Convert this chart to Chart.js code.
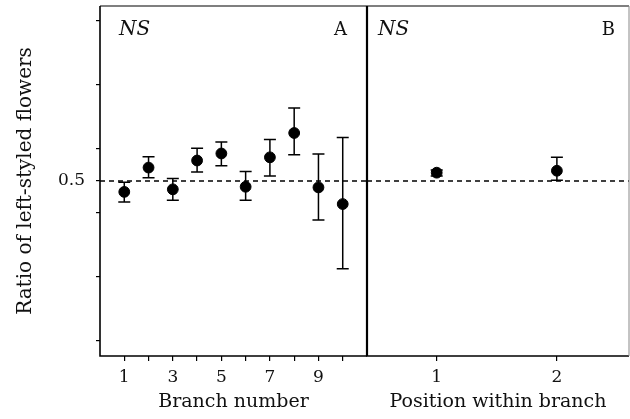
<!DOCTYPE html>
<html>
<head>
<meta charset="utf-8">
<script src="https://cdn.jsdelivr.net/npm/chart.js@4/dist/chart.umd.min.js"></script>
<style>
    html, body { margin: 0; padding: 0; background: #fff; }
    #wrap { position: relative; width: 630px; height: 419px; }
    canvas { position: absolute; left: 0; top: 0; }
</style>
</head>
<body>
<div id="wrap">
    <canvas id="chartA" width="630" height="419"></canvas>
    <canvas id="chartB" width="630" height="419"></canvas>
</div>
<script>
// panel A: ratio per branch number (mean, lower and upper error bar)
const branchNumbers = [1, 2, 3, 4, 5, 6, 7, 8, 9, 10];
const branchRatio = [0.483, 0.521, 0.487, 0.532, 0.543, 0.491, 0.537, 0.575, 0.490, 0.464];
const branchLow   = [0.467, 0.505, 0.470, 0.514, 0.524, 0.470, 0.508, 0.541, 0.439, 0.363];
const branchHigh  = [0.498, 0.538, 0.504, 0.551, 0.561, 0.515, 0.565, 0.614, 0.542, 0.568];

// panel B: ratio per position within branch
const positions = [1, 2];
const positionRatio = [0.513, 0.516];
const positionLow   = [0.508, 0.501];
const positionHigh  = [0.517, 0.537];

const yTicks = [0.25, 0.35, 0.45, 0.5, 0.55, 0.65, 0.75];
const yLabels = [0.5];
const branchTicks = [1, 2, 3, 4, 5, 6, 7, 8, 9, 10];
const branchLabels = [1, 3, 5, 7, 9];
const positionTicks = [1, 2];
const expected = 0.5;

const Y_MIN = 0.2266, Y_MAX = 0.7734;
const SERIF = '"DejaVu Serif", serif';
const TICK_FONT = { family: SERIF, size: 17 };
const TITLE_FONT = { family: SERIF, size: 19 };

function frameAndErrors(opts) {
    return {
        id: 'frameAndErrors',
        afterDatasetsDraw(chart) {
            const { ctx, chartArea: a, scales } = chart;
            ctx.save();
            ctx.strokeStyle = '#000';
            ctx.lineWidth = 1.5;
            opts.xs.forEach((x, i) => {
                const px = scales.x.getPixelForValue(x);
                const yl = scales.y.getPixelForValue(opts.lows[i]);
                const yh = scales.y.getPixelForValue(opts.highs[i]);
                ctx.beginPath();
                ctx.moveTo(px, yl); ctx.lineTo(px, yh);
                ctx.moveTo(px - 6, yl); ctx.lineTo(px + 6, yl);
                ctx.moveTo(px - 6, yh); ctx.lineTo(px + 6, yh);
                ctx.stroke();
            });
            // frame
            ctx.lineWidth = 1.6;
            ctx.beginPath();
            ctx.moveTo(a.left, a.top); ctx.lineTo(a.left, a.bottom); ctx.lineTo(a.right, a.bottom);
            ctx.stroke();
            ctx.lineWidth = 1.2;
            ctx.beginPath();
            ctx.moveTo(a.left, a.top); ctx.lineTo(a.right, a.top);
            ctx.stroke();
            ctx.beginPath();
            if (opts.faintRight) { ctx.strokeStyle = '#888'; ctx.lineWidth = 1; }
            else { ctx.lineWidth = 2.2; }
            ctx.moveTo(a.right, a.top); ctx.lineTo(a.right, a.bottom);
            ctx.stroke();
            // panel labels
            ctx.fillStyle = '#111';
            ctx.textBaseline = 'alphabetic';
            ctx.font = 'italic 20px ' + SERIF;
            ctx.textAlign = 'left';
            ctx.fillText('NS', a.left + opts.nsOffset, a.top + 29);
            ctx.font = '18px ' + SERIF;
            ctx.textAlign = 'right';
            ctx.fillText(opts.label, a.right - opts.labelOffset, a.top + 29);
            ctx.restore();
        }
    };
}

function buildChart(id, opts) {
    const ctx = document.getElementById(id).getContext('2d');
    return new Chart(ctx, {
        type: 'scatter',
        data: {
            datasets: [{
                type: 'line',
                data: [{ x: opts.xMin, y: expected }, { x: opts.xMax, y: expected }],
                borderColor: '#000',
                borderWidth: 1.3,
                borderDash: [5, 4],
                pointRadius: 0
            }, {
                data: opts.xs.map((x, i) => ({ x, y: opts.ys[i] })),
                backgroundColor: '#000',
                borderColor: '#000',
                pointRadius: 5.4
            }]
        },
        options: {
            responsive: false,
            animation: false,
            layout: {
                autoPadding: false,
                padding: { left: opts.padLeft, right: opts.padRight, top: 6, bottom: 0 }
            },
            plugins: { legend: { display: false }, tooltip: { enabled: false } },
            scales: {
                x: {
                    type: 'linear',
                    min: opts.xMin,
                    max: opts.xMax,
                    afterBuildTicks: s => { s.ticks = opts.xTicks.map(v => ({ value: v })); },
                    afterFit: s => { s.height = 63; s.paddingLeft = 0; s.paddingRight = 0; },
                    border: { display: false },
                    grid: { drawOnChartArea: false, drawTicks: true, tickLength: 5, color: '#000', lineWidth: 1.2 },
                    ticks: {
                        color: '#111', font: TICK_FONT, padding: 6, maxRotation: 0, autoSkip: false,
                        callback: v => opts.xLabels.includes(v) ? String(v) : ''
                    },
                    title: {
                        display: true, text: opts.xTitle, color: '#111', font: TITLE_FONT,
                        padding: { top: 0, bottom: 6 }
                    }
                },
                y: {
                    type: 'linear',
                    display: opts.showY,
                    min: Y_MIN,
                    max: Y_MAX,
                    afterBuildTicks: s => { s.ticks = yTicks.map(v => ({ value: v })); },
                    afterFit: s => { s.width = opts.showY ? 100 : 0; s.paddingTop = 0; s.paddingBottom = 0; },
                    border: { display: false },
                    grid: { drawOnChartArea: false, drawTicks: true, tickLength: 4, color: '#000', lineWidth: 1.2 },
                    ticks: {
                        color: '#111', font: TICK_FONT, padding: 11, autoSkip: false,
                        callback: v => yLabels.includes(v) ? String(v) : ''
                    },
                    title: {
                        display: true, text: 'Ratio of left-styled flowers', color: '#111',
                        font: { family: SERIF, size: 20 },
                        padding: { top: 14, bottom: 0 }
                    }
                }
            }
        },
        plugins: [frameAndErrors(opts)]
    });
}

buildChart('chartA', {
    xs: branchNumbers, ys: branchRatio, lows: branchLow, highs: branchHigh,
    xMin: 0, xMax: 11, xTicks: branchTicks, xLabels: branchLabels,
    xTitle: 'Branch number', label: 'A', showY: true,
    padLeft: 0, padRight: 263, faintRight: false, nsOffset: 19, labelOffset: 20
});

buildChart('chartB', {
    xs: positions, ys: positionRatio, lows: positionLow, highs: positionHigh,
    xMin: 0.42, xMax: 2.6, xTicks: positionTicks, xLabels: positionTicks,
    xTitle: 'Position within branch', label: 'B', showY: false,
    padLeft: 367, padRight: 1, faintRight: true, nsOffset: 11, labelOffset: 14
});
</script>
</body>
</html>
